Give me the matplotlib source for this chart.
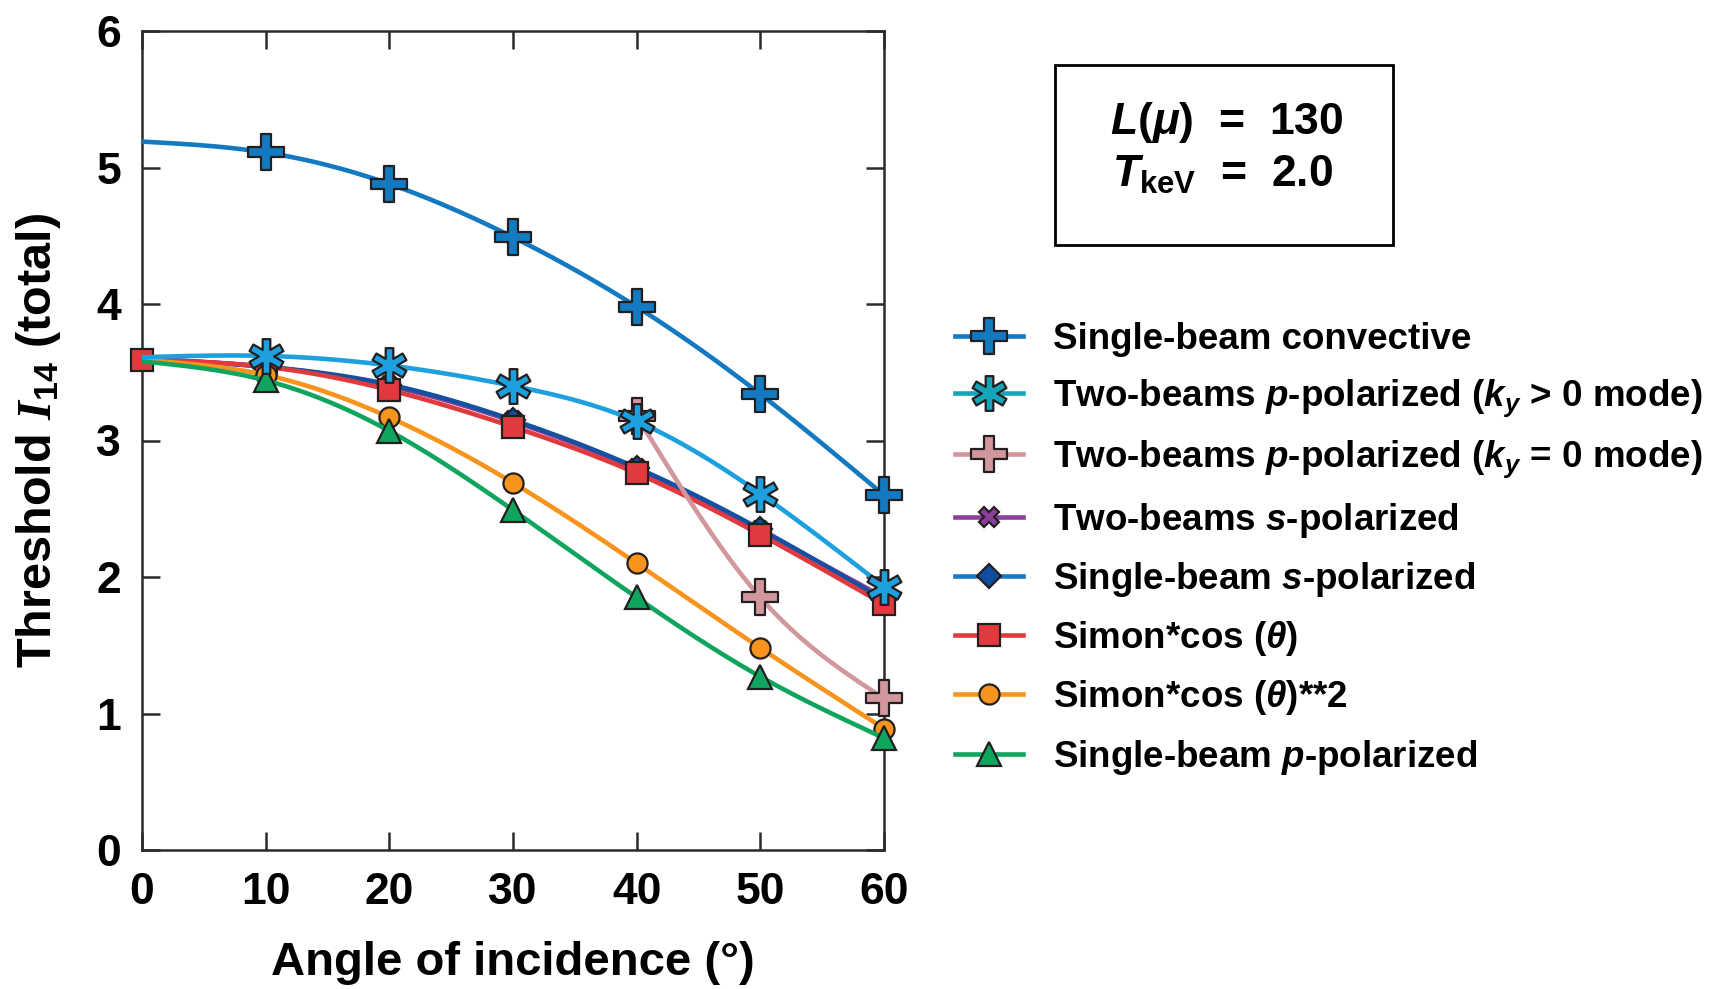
import numpy as np
import matplotlib
matplotlib.use('Agg')
import matplotlib.pyplot as plt
from matplotlib.path import Path
from matplotlib.lines import Line2D
from matplotlib.patches import Rectangle

plt.rcParams['font.family'] = ['Liberation Sans', 'DejaVu Sans']
plt.rcParams['font.weight'] = 'bold'
plt.rcParams['mathtext.fontset'] = 'custom'
plt.rcParams['mathtext.rm'] = 'Liberation Sans:bold'
plt.rcParams['mathtext.it'] = 'Liberation Sans:italic:bold'
plt.rcParams['mathtext.bf'] = 'Liberation Sans:bold'
plt.rcParams['mathtext.cal'] = 'Liberation Serif:italic'

# data
angles = [0, 10, 20, 30, 40, 50, 60]
convective = [5.19, 5.11, 4.88, 4.49, 3.98, 3.34, 2.60]
two_p_kpos = [3.61, 3.62, 3.55, 3.40, 3.14, 2.61, 1.93]
angles_k0 = [40, 50, 60]
two_p_k0 = [3.18, 1.85, 1.11]
two_s = [3.60, 3.54, 3.40, 3.14, 2.79, 2.34, 1.85]
single_s = [3.60, 3.54, 3.41, 3.15, 2.80, 2.35, 1.83]
simon_cos = [3.59, 3.54, 3.37, 3.10, 2.76, 2.31, 1.80]
simon_cos2 = [3.59, 3.48, 3.17, 2.69, 2.10, 1.48, 0.89]
single_p = [3.58, 3.44, 3.07, 2.49, 1.85, 1.27, 0.82]

labels = ['Single-beam convective',
          'Two-beams $p$-polarized ($k_y$ > 0 mode)',
          'Two-beams $p$-polarized ($k_y$ = 0 mode)',
          'Two-beams $s$-polarized',
          'Single-beam $s$-polarized',
          'Simon*cos ($\\theta$)',
          'Simon*cos ($\\theta$)**2',
          'Single-beam $p$-polarized']


def spline(x, y, n=300):
    # natural cubic spline, only used to draw the smooth connecting lines
    x = np.asarray(x, float)
    y = np.asarray(y, float)
    h = np.diff(x)
    m = len(x)
    A = np.zeros((m, m))
    b = np.zeros(m)
    A[0, 0] = A[-1, -1] = 1
    for i in range(1, m - 1):
        A[i, i - 1] = h[i - 1]
        A[i, i] = 2 * (h[i - 1] + h[i])
        A[i, i + 1] = h[i]
        b[i] = 3 * ((y[i + 1] - y[i]) / h[i] - (y[i] - y[i - 1]) / h[i - 1])
    c = np.linalg.solve(A, b)
    xs = np.linspace(x[0], x[-1], n)
    idx = np.clip(np.searchsorted(x, xs) - 1, 0, m - 2)
    dx = xs - x[idx]
    bb = (y[idx + 1] - y[idx]) / h[idx] - h[idx] * (2 * c[idx] + c[idx + 1]) / 3
    d = (c[idx + 1] - c[idx]) / (3 * h[idx])
    return xs, y[idx] + bb * dx + c[idx] * dx ** 2 + d * dx ** 3


def plus_marker(w=0.14):
    v = [(-w, 0.5), (w, 0.5), (w, w), (0.5, w), (0.5, -w), (w, -w), (w, -0.5),
         (-w, -0.5), (-w, -w), (-0.5, -w), (-0.5, w), (-w, w), (-w, 0.5)]
    return Path(v, closed=True)


def asterisk_marker(w=0.11, L=0.5):
    r = np.hypot(L, w)
    dl = np.arctan2(w, L)
    v = []
    for k in range(6):
        t = np.deg2rad(90 + 60 * k)
        v.append((r * np.cos(t - dl), r * np.sin(t - dl)))
        v.append((r * np.cos(t + dl), r * np.sin(t + dl)))
        ti = t + np.deg2rad(30)
        v.append((2 * w * np.cos(ti), 2 * w * np.sin(ti)))
    v.append(v[0])
    return Path(v, closed=True)


PLUS = plus_marker()
AST = asterisk_marker()
EDGE = '#231f20'

fig = plt.figure(figsize=(17.17, 9.89), dpi=100)
ax = fig.add_axes([142 / 1717, 1 - 850 / 989, 742 / 1717, 819 / 989])


def draw(x, y, color, marker, ms, mfc, start, z):
    xs, ys = spline(x, y)
    ax.plot(xs, ys, color=color, lw=3.3, zorder=z)
    ax.plot(x[start:], y[start:], ls='none', marker=marker, ms=ms, mfc=mfc,
            mec=EDGE, mew=1.6, zorder=z + 0.5, clip_on=False)


draw(angles, convective, '#1379c1', PLUS, 26, '#1379c1', 1, 3)
draw(angles, two_s, '#8b3f98', 'X', 15, '#8b3f98', 1, 4)
draw(angles, single_s, '#1551a0', 'D', 12, '#0e4c9d', 1, 5)
draw(angles, simon_cos, '#e03a3f', 's', 15.5, '#e03a3f', 0, 6)
draw(angles, simon_cos2, '#f7941d', 'o', 14.5, '#f7941d', 1, 7)
draw(angles, single_p, '#10a55f', '^', 17, '#10a55f', 1, 8)
draw(angles_k0, two_p_k0, '#d1979c', PLUS, 26, '#d1979c', 0, 9)
draw(angles, two_p_kpos, '#1fa0de', AST, 25, '#1fa0de', 1, 10)

ax.set_xlim(0, 60)
ax.set_ylim(0, 6)
ax.set_xticks(angles)
ax.set_yticks(range(0, 7))
for s in ax.spines.values():
    s.set_color('#2b2b2b')
    s.set_linewidth(1.8)
ax.tick_params(direction='in', length=13, width=1.8, color='#2b2b2b',
               top=True, right=True, labelsize=32)
ax.tick_params(axis='x', pad=16)
ax.tick_params(axis='y', pad=15)
for lab in ax.get_xticklabels() + ax.get_yticklabels():
    lab.set_fontweight('bold')

ax.set_xlabel('Angle of incidence (°)', fontsize=34, fontweight='bold', labelpad=20)
ax.set_ylabel('Threshold $\\mathcal{I}_{\\mathrm{14}}$ (total)', fontsize=35,
              fontweight='bold', labelpad=24)

# legend with its own swatch colours
legend_style = [('#1379c1', PLUS, 26, '#1379c1'),
                ('#13a5b8', AST, 25, '#13a5b8'),
                ('#d1979c', PLUS, 26, '#d1979c'),
                ('#8b3f98', 'X', 15, '#8b3f98'),
                ('#1a78c2', 'D', 12, '#0e4c9d'),
                ('#e03a3f', 's', 15.5, '#e03a3f'),
                ('#f7941d', 'o', 14.5, '#f7941d'),
                ('#10a55f', '^', 17, '#10a55f')]
handles = [Line2D([], [], color=c, lw=3.3, marker=m, ms=ms, mfc=fc, mec=EDGE, mew=1.6)
           for c, m, ms, fc in legend_style]
fig.legend(handles, labels, loc='upper left', bbox_to_anchor=(955 / 1717, 1 - 322 / 989),
           frameon=False, fontsize=26.5, handlelength=1.85, handletextpad=0.8,
           labelspacing=0.55, borderpad=0, borderaxespad=0)

# parameter box
fig.patches.append(Rectangle((1055 / 1717, 1 - 245 / 989), 338 / 1717, 180 / 989,
                             transform=fig.transFigure, fill=False, lw=2, ec='black'))
fig.text(1110 / 1717, 1 - 134 / 989, '$L(\\mu)$  =  130', fontsize=32,
         ha='left', va='baseline')
fig.text(1112 / 1717, 1 - 187 / 989, '$T_{\\mathrm{keV}}$  =  2.0', fontsize=32,
         ha='left', va='baseline')

fig.savefig('out.png', dpi=100)
